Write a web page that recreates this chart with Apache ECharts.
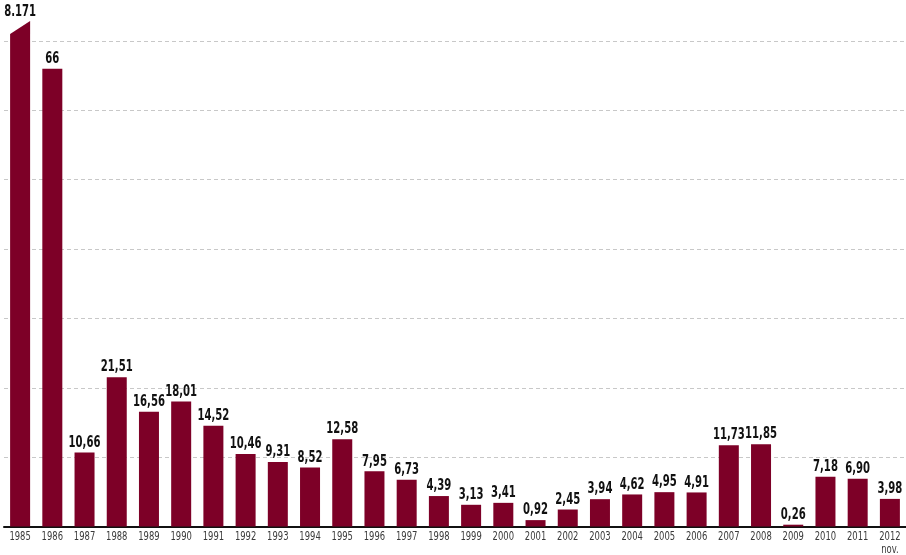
<!DOCTYPE html>
<html><head><meta charset="utf-8">
<style>html,body{margin:0;padding:0;background:#fff}#c{width:906px;height:555px}</style>
<script src="https://cdn.jsdelivr.net/npm/echarts@6/dist/echarts.min.js"></script>
</head><body><div id="c"></div>
<script>
const years = ['1985','1986','1987','1988','1989','1990','1991','1992','1993','1994','1995','1996','1997','1998','1999','2000','2001','2002','2003','2004','2005','2006','2007','2008','2009','2010','2011','2012\nnov.'];
const values = [8171,66,10.66,21.51,16.56,18.01,14.52,10.46,9.31,8.52,12.58,7.95,6.73,4.39,3.13,3.41,0.92,2.45,3.94,4.62,4.95,4.91,11.73,11.85,0.26,7.18,6.90,3.98];
const valueLabels = ['8.171','66','10,66','21,51','16,56','18,01','14,52','10,46','9,31','8,52','12,58','7,95','6,73','4,39','3,13','3,41','0,92','2,45','3,94','4,62','4,95','4,91','11,73','11,85','0,26','7,18','6,90','3,98'];
const yTicks = {min: 0, max: 70, interval: 10};

const BREAK_LEFT = 71, BREAK_RIGHT = 72.9;
const FONT = "'DejaVu Sans Condensed','Liberation Sans Narrow',sans-serif";
const chart = echarts.init(document.getElementById('c'), null, {renderer: 'canvas'});
chart.setOption({
  animation: false,
  grid: {left: 4, width: 904, top: 41, bottom: 28.5},
  xAxis: {
    type: 'category', data: years, boundaryGap: true,
    axisLine: {lineStyle: {color: '#111', width: 2}},
    axisTick: {inside: true, length: 11, lineStyle: {color: '#111', width: 1.5}},
    axisLabel: {show: false}
  },
  yAxis: {
    type: 'value', min: yTicks.min, max: yTicks.max, interval: yTicks.interval,
    axisLabel: {show: false}, axisLine: {show: false}, axisTick: {show: false},
    splitLine: {lineStyle: {color: '#c8c8c8', type: [4, 3], width: 1}}
  },
  series: [{
    type: 'custom', clip: false,
    data: values.map((v, i) => [i, v]),
    renderItem: function (params, api) {
      const i = api.value(0), v = api.value(1);
      const bw = 20;
      const base = api.coord([i, 0]);
      const x0 = base[0] - bw / 2, x1 = base[0] + bw / 2;
      let pts, topY;
      if (v > yTicks.max) {
        const yl = api.coord([i, BREAK_LEFT])[1];
        const yr = api.coord([i, BREAK_RIGHT])[1];
        pts = [[x0, base[1]], [x0, yl], [x1, yr], [x1, base[1]]];
        topY = yr + 1;
      } else {
        const t = api.coord([i, v])[1];
        pts = [[x0, base[1]], [x0, t], [x1, t], [x1, base[1]]];
        topY = t;
      }
      return {
        type: 'group',
        children: [
          {type: 'polygon', shape: {points: pts}, style: {fill: '#7d0027'}},
          {type: 'text', x: base[0], y: topY - 2, scaleX: 0.7,
            style: {text: valueLabels[i], x: 0, y: 0,
            textAlign: 'center', textVerticalAlign: 'bottom',
            font: 'bold 16px ' + FONT, fill: '#111'}},
          {type: 'text', x: base[0], y: base[1] + 4, scaleX: 0.72,
            style: {text: years[i], x: 0, y: 0, lineHeight: 13,
            textAlign: 'center', textVerticalAlign: 'top',
            font: '13px ' + FONT, fill: '#3a3a3a'}}
        ]
      };
    }
  }]
});
</script></body></html>
